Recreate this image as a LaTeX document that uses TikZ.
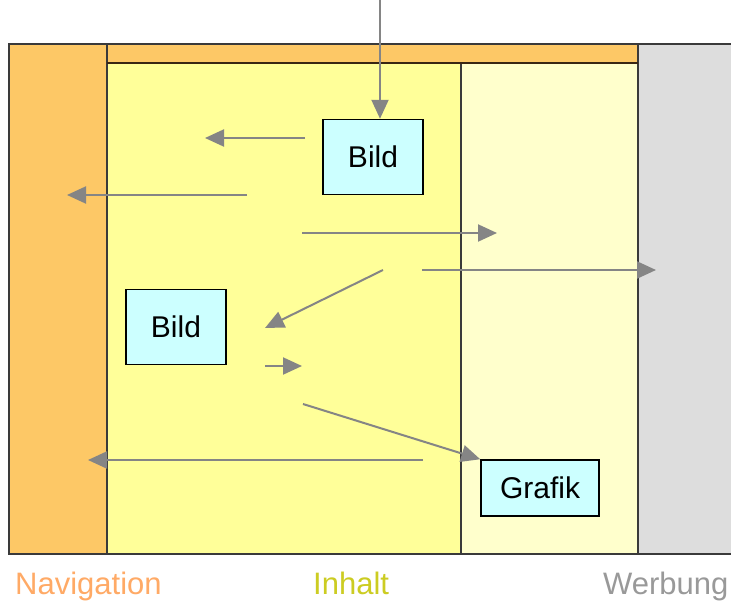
\documentclass[tikz,border=0pt]{standalone}
\usepackage{fontspec}
\setmainfont{Liberation Sans}
\usetikzlibrary{arrows.meta}
\definecolor{navc}{HTML}{FDC866}
\definecolor{inhc}{HTML}{FFFF99}
\definecolor{lightc}{HTML}{FFFFCC}
\definecolor{werbc}{HTML}{DDDDDD}
\definecolor{boxc}{HTML}{CCFFFF}
\definecolor{arrc}{HTML}{858585}
\definecolor{framec}{HTML}{3A3A3A}
\definecolor{navtext}{HTML}{FFAA66}
\definecolor{inhtext}{HTML}{CCCC22}
\definecolor{werbtext}{HTML}{999999}
\tikzset{
  pagebox/.style={draw=black, line width=1.5pt, fill=boxc, inner sep=0pt,
    font=\fontsize{30}{34}\selectfont},
  flow/.style={draw=arrc, line width=2pt, -{Triangle[length=19pt,width=17pt]}},
  divider/.style={draw=framec, line width=2pt},
  collabel/.style={anchor=base west, inner sep=0pt, font=\fontsize{31}{36}\selectfont}
}
\begin{document}
\begin{tikzpicture}[x=1pt,y=-1pt]
\useasboundingbox (0,0) rectangle (731,602);
\clip (0,0) rectangle (731,602);
\fill[white] (0,0) rectangle (731,602);
% columns
\fill[navc] (9,44) rectangle (107,554);
\fill[navc] (107,44) rectangle (638,63);
\fill[inhc] (107,63) rectangle (461,554);
\fill[lightc] (461,63) rectangle (638,554);
\fill[werbc] (638,44) rectangle (740,554);
% frame lines
\draw[divider] (740,44) -- (9,44) -- (9,554) -- (740,554);
\draw[divider] (107,44) -- (107,554);
\draw[divider] (461,63) -- (461,554);
\draw[divider] (638,44) -- (638,554);
\draw[draw=black!70!brown, line width=2pt] (107,63) -- (638,63);
% boxes
\node[pagebox, minimum width=100pt, minimum height=75pt] (b1) at (373,157) {Bild};
\node[pagebox, minimum width=100pt, minimum height=75pt] (b2) at (176,327) {Bild};
\node[pagebox, minimum width=118pt, minimum height=56pt] (g) at (540,488) {Grafik};
% free ends
\coordinate (top) at (380,0);
\coordinate (a1s) at (305,138); \coordinate (a1e) at (205,138);
\coordinate (a2s) at (247,195); \coordinate (a2e) at (67,195);
\coordinate (a3s) at (302,233); \coordinate (a3e) at (497,233);
\coordinate (a4s) at (383,270); \coordinate (a4e) at (265,328);
\coordinate (a5s) at (422,270); \coordinate (a5e) at (656,270);
\coordinate (a6s) at (265,366); \coordinate (a6e) at (302,366);
\coordinate (a7s) at (303,404);
\coordinate (a8s) at (423,460); \coordinate (a8e) at (88,460);
% arrows
\draw[flow] (top) -- (top |- b1.north);
\draw[flow] (a1s) -- (a1e);
\draw[flow] (a2s) -- (a2e);
\draw[flow] (a3s) -- (a3e);
\draw[flow] (a4s) -- (a4e);
\draw[flow] (a5s) -- (a5e);
\draw[flow] (a6s) -- (a6e);
\draw[flow] (a7s) -- (g.north west);
\draw[flow] (a8s) -- (a8e);
% labels
\node[collabel, text=navtext] (lnav) at (15,594) {Navigation};
\node[collabel, text=inhtext] (linh) at (313,594) {Inhalt};
\node[collabel, text=werbtext] (lwerb) at (603,594) {Werbung};
\end{tikzpicture}
\end{document}
